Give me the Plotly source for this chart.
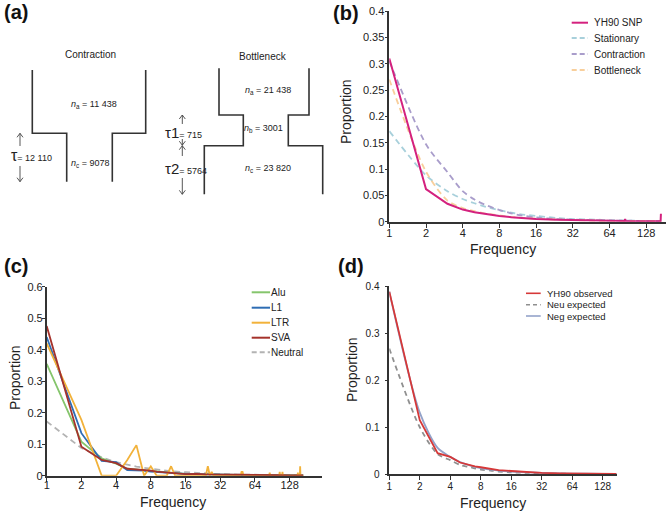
import math
import plotly.graph_objects as go

W, H = 667, 511
FONT = "Arial, 'Liberation Sans', Helvetica, sans-serif"
INK = "#333333"

# ---------------- panel (a): demographic models ----------------
contraction_n = ["11 438", "9078"]          # n_a, n_c
contraction_tau = "12 110"
bottleneck_n = ["21 438", "3001", "23 820"]  # n_a, n_b, n_c
bottleneck_tau = ["715", "5764"]

# ---------------- panel (b) ----------------
freq_ticks = [1, 2, 4, 8, 16, 32, 64, 128]
b_yticks = [0, 0.05, 0.1, 0.15, 0.2, 0.25, 0.3, 0.35, 0.4]
b_ylabels = ["0", "0.05", "0.1", "0.15", "0.2", "0.25", "0.3", "0.35", "0.4"]

b_snp_x = [1, 2, 3, 4, 5, 6, 8, 10, 12, 16, 24, 32, 48, 64, 85, 86, 87, 128, 168, 169]
b_snp_y = [0.31, 0.062, 0.034, 0.023, 0.018, 0.015, 0.011, 0.0085, 0.007, 0.005, 0.0035,
           0.003, 0.002, 0.002, 0.0015, 0.005, 0.0015, 0.001, 0.001, 0.015]
b_exp_x = [1, 2, 3, 4, 5, 6, 8, 10, 12, 16, 24, 32, 48, 64, 96, 128, 169]
b_stat_y = [0.172, 0.088, 0.058, 0.043, 0.035, 0.029, 0.022, 0.017, 0.014, 0.011, 0.007,
            0.005, 0.004, 0.003, 0.002, 0.0015, 0.001]
b_contr_y = [0.305, 0.147, 0.094, 0.058, 0.042, 0.033, 0.022, 0.016, 0.012, 0.008, 0.005,
             0.004, 0.003, 0.002, 0.002, 0.001, 0.001]
b_bottl_y = [0.27, 0.095, 0.04, 0.026, 0.02, 0.016, 0.012, 0.009, 0.0075, 0.0055, 0.004,
             0.003, 0.002, 0.0015, 0.001, 0.001, 0.001]

# ---------------- panel (c) ----------------
c_yticks = [0, 0.1, 0.2, 0.3, 0.4, 0.5, 0.6]
c_ylabels = ["0", "0.1", "0.2", "0.3", "0.4", "0.5", "0.6"]
c_neu_x = [1, 2, 3, 4, 5, 6, 8, 12, 16, 24, 32, 64, 128, 168]
c_neu_y = [0.172, 0.088, 0.058, 0.043, 0.035, 0.029, 0.022, 0.014, 0.011, 0.007, 0.005,
           0.003, 0.0015, 0.001]
c_alu_x = [1, 2, 3, 4, 5, 6, 7, 8, 10, 12, 16, 24, 32, 64, 128, 168]
c_alu_y = [0.355, 0.108, 0.055, 0.038, 0.022, 0.02, 0.018, 0.015, 0.012, 0.01, 0.006,
           0.004, 0.003, 0.002, 0.001, 0.001]
c_l1_x = [1, 2, 3, 4, 5, 6, 7, 8, 10, 12, 16, 24, 32, 64, 128, 168]
c_l1_y = [0.44, 0.135, 0.047, 0.043, 0.018, 0.018, 0.016, 0.013, 0.01, 0.008, 0.006,
          0.004, 0.003, 0.002, 0.001, 0.001]
c_ltr_x = [1, 2, 3, 4, 5, 6, 7, 8, 9, 11, 12, 13, 24, 25, 26, 27, 28, 48, 49, 50, 51,
           85, 86, 87, 104, 105, 106, 110, 111, 112, 150, 151, 152, 157, 158, 159, 168]
c_ltr_y = [0.42, 0.177, 0, 0, 0.05, 0.097, 0, 0.03, 0, 0, 0.03, 0, 0, 0.03, 0, 0.012, 0,
           0, 0.012, 0.012, 0, 0, 0.01, 0, 0, 0.012, 0, 0, 0.012, 0, 0, 0.01, 0, 0, 0.03, 0, 0]
c_sva_x = [1, 2, 3, 4, 5, 6, 7, 8, 9, 10, 12, 16, 20, 24, 32, 48, 64, 96, 128, 168]
c_sva_y = [0.475, 0.092, 0.05, 0.04, 0.022, 0.02, 0.019, 0.016, 0.013, 0.012, 0.009,
           0.005, 0.006, 0.004, 0.004, 0.002, 0.003, 0.002, 0.001, 0.001]

# ---------------- panel (d) ----------------
d_yticks = [0, 0.1, 0.2, 0.3, 0.4]
d_ylabels = ["0", "0.1", "0.2", "0.3", "0.4"]
d_obs_x = [1, 2, 3, 4, 5, 6, 7, 8, 10, 12, 16, 24, 32, 48, 64, 96, 128, 175]
d_obs_y = [0.388, 0.115, 0.045, 0.037, 0.025, 0.02, 0.017, 0.015, 0.011, 0.009, 0.007,
           0.004, 0.003, 0.002, 0.002, 0.0015, 0.001, 0.001]
d_exp_x = [1, 2, 3, 4, 5, 6, 8, 10, 12, 16, 24, 32, 64, 128, 175]
d_neg_y = [0.388, 0.131, 0.056, 0.037, 0.026, 0.02, 0.013, 0.01, 0.008, 0.006, 0.004,
           0.003, 0.0015, 0.001, 0.001]
d_neu_y = [0.267, 0.1, 0.043, 0.03, 0.02, 0.016, 0.01, 0.008, 0.006, 0.004, 0.003,
           0.002, 0.001, 0.0005, 0.0005]


def px(x):
    return x / W


def py(y):
    return 1 - y / H


fig = go.Figure()


def add_line(x, y, color, ax, width=2.0, dash="solid", shape="linear"):
    fig.add_trace(go.Scatter(
        x=x, y=y, mode="lines", xaxis="x" + ax, yaxis="y" + ax, showlegend=False,
        hoverinfo="skip",
        line=dict(color=color, width=width, dash=dash, shape=shape, smoothing=0.8),
    ))


# panel b
MAG = "#d4217e"
STA = "#a8d0db"
CON = "#a99dcb"
BOT = "#f8cf9c"
add_line(b_exp_x, b_stat_y, STA, "", 1.8, "6px,4px", "spline")
add_line(b_exp_x, b_contr_y, CON, "", 1.8, "6px,4px", "spline")
add_line(b_exp_x, b_bottl_y, BOT, "", 1.8, "6px,4px", "spline")
add_line(b_snp_x, b_snp_y, MAG, "", 2.0)

# panel c
ALU = "#85c56c"
L1C = "#2e6db4"
LTR = "#f2b23a"
SVA = "#a5322b"
NEU = "#b3b3b3"
add_line(c_neu_x, c_neu_y, NEU, "2", 1.8, "6px,4px")
add_line(c_alu_x, c_alu_y, ALU, "2", 1.8)
add_line(c_l1_x, c_l1_y, L1C, "2", 1.8)
add_line(c_ltr_x, c_ltr_y, LTR, "2", 1.8)
add_line(c_sva_x, c_sva_y, SVA, "2", 1.8)

# panel d
OBS = "#d63838"
NEG = "#93a2c9"
NEUD = "#8f8f8f"
add_line(d_exp_x, d_neu_y, NEUD, "3", 1.8, "5px,4px", "spline")
add_line(d_exp_x, d_neg_y, NEG, "3", 1.8, shape="spline")
add_line(d_obs_x, d_obs_y, OBS, "3", 1.8)


def axes(x0, x1, y_bottom, y_top, xend, ymax, yvals, ylabels, fsize, suffix, xoff, yoff):
    xa = dict(
        type="log", range=[0, math.log10(xend)], domain=[px(x0), px(x1)],
        anchor="y" + suffix, tickvals=freq_ticks, ticktext=[str(v) for v in freq_ticks],
        ticks="outside", ticklen=4, tickwidth=1.2, tickcolor=INK, ticklabelstandoff=xoff,
        showline=True, linecolor=INK, linewidth=1.6, showgrid=False, zeroline=False,
        tickfont=dict(family=FONT, size=fsize, color="#222"), automargin=False,
    )
    ya = dict(
        range=[0, ymax], domain=[py(y_bottom), py(y_top)], anchor="x" + suffix,
        tickvals=yvals, ticktext=ylabels, ticklabelstandoff=yoff,
        ticks="outside", ticklen=3, tickwidth=1.2, tickcolor=INK,
        showline=True, linecolor=INK, linewidth=1.6, showgrid=False, zeroline=False,
        tickfont=dict(family=FONT, size=fsize, color="#222"), automargin=False,
    )
    return xa, ya


xb, yb = axes(389.3, 666, 221.7, 11, 186, 0.4, b_yticks, b_ylabels, 11, "", -4, -2)
xc, yc = axes(46.7, 321.7, 475.7, 286.7, 243, 0.6, c_yticks, c_ylabels, 11, "2", -6, -3)
xd, yd = axes(389.3, 616.7, 474.3, 286, 176, 0.4, d_yticks, d_ylabels, 10, "3", -2, 3)

shapes = []
annotations = []


def text(x, y, s, size, anchor="center", angle=0, bold=False, color="#222"):
    annotations.append(dict(
        x=px(x), y=py(y), xref="paper", yref="paper", text=("<b>%s</b>" % s) if bold else s,
        showarrow=False, xanchor=anchor, yanchor="middle", textangle=angle,
        font=dict(family=FONT, size=size, color=color),
    ))


def path(points, color=INK, width=1.6):
    d = "M " + " L ".join("%.5f,%.5f" % (px(a), py(b)) for a, b in points)
    shapes.append(dict(type="path", path=d, xref="paper", yref="paper",
                       line=dict(color=color, width=width)))


def arrow(x, y_head, y_tail):
    # shaft plus open chevron head
    path([(x, y_tail), (x, y_head)], "#444", 0.9)
    s = 4 if y_tail > y_head else -4
    path([(x - 3, y_head + s), (x, y_head), (x + 3, y_head + s)], "#444", 0.9)


# panel labels
text(2, 12, "(a)", 20, "left", bold=True, color="#111")
text(331, 13, "(b)", 20, "left", bold=True, color="#111")
text(2, 266, "(c)", 20, "left", bold=True, color="#111")
text(336, 266, "(d)", 20, "left", bold=True, color="#111")

# axis titles
text(346, 112, "Proportion", 14, angle=-90)
text(503, 249, "Frequency", 14)
text(15, 378, "Proportion", 14, angle=-90)
text(173, 502, "Frequency", 14)
text(352, 370, "Proportion", 14, angle=-90)
text(493, 503, "Frequency", 14)

# ---- panel (a) drawing
text(90, 54, "Contraction", 10)
path([(32.3, 70), (32.3, 133.3), (66.7, 133.3), (66.7, 181.7)])
path([(145.7, 70), (145.7, 133.3), (112.3, 133.3), (112.3, 181.7)])
text(94, 104, "<i>n</i><sub>a</sub> = %s" % contraction_n[0], 9)
text(90, 163, "<i>n</i><sub>c</sub> = %s" % contraction_n[1], 9)
text(9, 155, '<span style="font-size:16px">τ</span>= %s' % contraction_tau, 9, "left")
arrow(20, 133.3, 146)
arrow(20, 181.7, 166)

text(263.3, 56, "Bottleneck", 10)
path([(219, 68.3), (219, 115), (243.3, 115), (243.3, 145.7), (204.3, 145.7), (204.3, 194.3)])
path([(309, 68.3), (309, 115), (288.3, 115), (288.3, 145.7), (322.7, 145.7), (322.7, 194.3)])
text(268, 90, "<i>n</i><sub>a</sub> = %s" % bottleneck_n[0], 9)
text(263, 128, "<i>n</i><sub>b</sub> = %s" % bottleneck_n[1], 9)
text(268, 168, "<i>n</i><sub>c</sub> = %s" % bottleneck_n[2], 9)
text(163, 132, '<span style="font-size:15px">τ1</span>= %s' % bottleneck_tau[0], 9, "left")
text(163, 168.5, '<span style="font-size:15px">τ2</span>= %s' % bottleneck_tau[1], 9, "left")
arrow(182.3, 115, 124)
arrow(182.3, 145.2, 139)
arrow(182.3, 145.7, 156)
arrow(182.3, 194.3, 178)


# ---- legends (drawn)
def legend_entry(x0, x1, xt, y, color, dash, label, size, width=2.0):
    shapes.append(dict(type="line", xref="paper", yref="paper", x0=px(x0), x1=px(x1),
                       y0=py(y), y1=py(y), line=dict(color=color, width=width, dash=dash)))
    text(xt, y, label, size, "left")


for y, c, dsh, lab in [(22.7, MAG, "solid", "YH90 SNP"), (38, STA, "5px,3px", "Stationary"),
                       (54, CON, "5px,3px", "Contraction"), (70, BOT, "5px,3px", "Bottleneck")]:
    legend_entry(571.7, 588, 592, y, c, dsh, lab, 10)

for y, c, dsh, lab in [(292.3, ALU, "solid", "Alu"), (307.7, L1C, "solid", "L1"),
                       (322.7, LTR, "solid", "LTR"), (337.7, SVA, "solid", "SVA"),
                       (352.3, NEU, "5px,3px", "Neutral")]:
    legend_entry(251.7, 270, 269, y, c, dsh, lab, 10)

for y, c, dsh, lab in [(293.3, OBS, "solid", "YH90 observed"), (304.7, NEUD, "4px,3px", "Neu expected"),
                       (316, NEG, "solid", "Neg expected")]:
    legend_entry(526, 540.7, 545, y, c, dsh, lab, 9.5, 1.6)

fig.update_layout(
    width=W, height=H, margin=dict(l=0, r=0, t=0, b=0, pad=0, autoexpand=False),
    paper_bgcolor="white", plot_bgcolor="white", showlegend=False,
    font=dict(family=FONT, color="#222"),
    xaxis=xb, yaxis=yb, xaxis2=xc, yaxis2=yc, xaxis3=xd, yaxis3=yd,
    shapes=shapes, annotations=annotations,
)

fig.write_html(
    "out.html",
    config={"displayModeBar": False},
    post_script="document.body.style.margin='0px';document.body.style.padding='0px';"
                "document.body.style.overflow='hidden';",
)
